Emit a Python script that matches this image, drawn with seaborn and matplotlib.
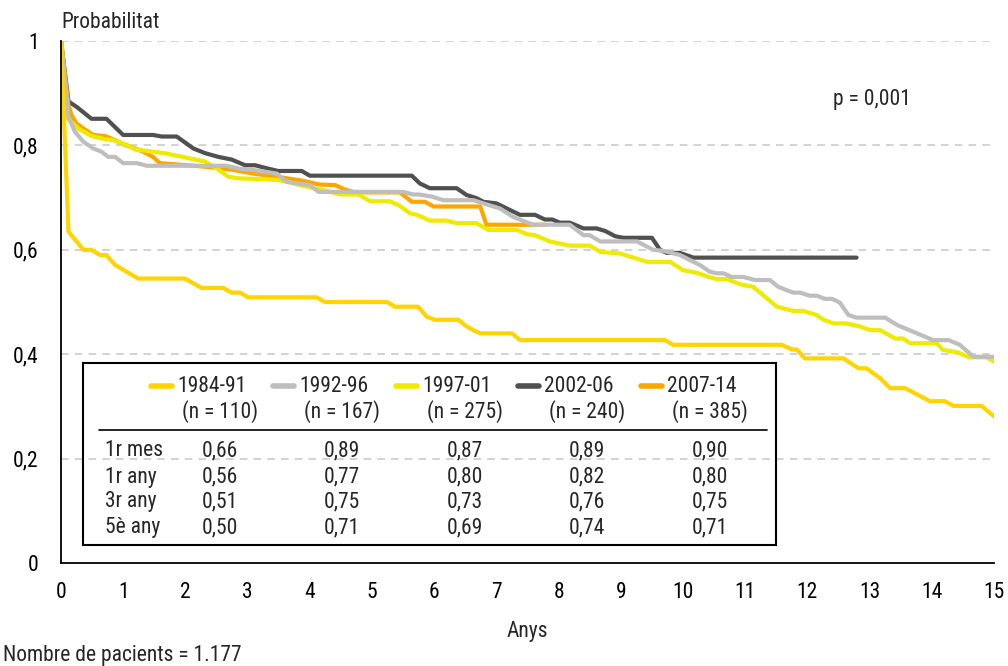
import numpy as np
import pandas as pd
import matplotlib
matplotlib.use("Agg")
import matplotlib.pyplot as plt
from matplotlib import font_manager
from matplotlib.ticker import FixedLocator, FixedFormatter
import seaborn as sns

# ---- survival curves (years, probability) ----
x_8491 = [0, 0.12, 0.36, 0.49, 0.63, 0.73, 0.87, 1.24, 1.99, 2.26, 2.61, 2.74, 2.88, 3.01, 4.11,
          4.24, 5.24, 5.37, 5.74, 5.88, 6.01, 6.39, 6.50, 6.63, 6.74, 7.25, 7.38, 9.71, 9.84, 11.59,
          11.75, 11.83, 11.96, 12.58, 12.82, 12.95, 13.17, 13.33, 13.57, 13.97, 14.21, 14.35, 14.80, 15.0]
y_8491 = [1, 0.635, 0.600, 0.600, 0.590, 0.590, 0.571, 0.545, 0.545, 0.527, 0.527, 0.518, 0.518, 0.509,
          0.509, 0.500, 0.500, 0.491, 0.491, 0.472, 0.466, 0.466, 0.455, 0.446, 0.440, 0.440, 0.427,
          0.427, 0.418, 0.418, 0.409, 0.409, 0.392, 0.392, 0.373, 0.373, 0.354, 0.335, 0.335, 0.310,
          0.310, 0.301, 0.301, 0.281]

x_9296 = [0, 0.12, 0.225, 0.36, 0.52, 0.65, 0.76, 0.87, 1.0, 1.22, 1.38, 2.66, 2.88, 3.09, 3.47,
          3.63, 4.0, 4.14, 5.5, 5.66, 5.75, 5.96, 6.15, 6.63, 6.84, 7.06, 7.27, 7.59, 8.18, 8.40,
          8.50, 8.67, 9.26, 9.52, 9.68, 9.95, 10.27, 10.43, 10.54, 10.65, 10.78, 10.97, 11.16, 11.40,
          11.53, 11.77, 11.88, 12.04, 12.15, 12.28, 12.40, 12.52, 12.66, 12.79, 13.25, 13.44, 14.02,
          14.27, 14.45, 14.67, 15.0]
y_9296 = [1, 0.855, 0.826, 0.807, 0.794, 0.788, 0.778, 0.778, 0.766, 0.766, 0.761, 0.761, 0.755,
          0.753, 0.746, 0.730, 0.724, 0.711, 0.711, 0.706, 0.706, 0.702, 0.695, 0.695, 0.687, 0.679,
          0.663, 0.648, 0.648, 0.628, 0.628, 0.616, 0.616, 0.600, 0.598, 0.590, 0.571, 0.558, 0.555,
          0.555, 0.548, 0.548, 0.542, 0.542, 0.529, 0.518, 0.518, 0.512, 0.512, 0.506, 0.506, 0.499,
          0.475, 0.470, 0.470, 0.456, 0.427, 0.427, 0.418, 0.395, 0.395]

x_9701 = [0, 0.11, 0.28, 0.49, 0.71, 0.84, 1.06, 1.19, 1.35, 1.67, 2.32, 2.50, 2.69, 2.85, 3.47,
          3.65, 3.84, 4.16, 4.49, 4.78, 4.97, 5.29, 5.45, 5.61, 5.72, 5.93, 6.20, 6.36, 6.68, 6.87,
          7.33, 7.49, 7.62, 7.86, 8.18, 8.50, 8.67, 8.99, 9.15, 9.42, 9.79, 10.0, 10.22, 10.41, 10.54,
          10.70, 10.92, 11.13, 11.29, 11.51, 11.77, 11.93, 12.15, 12.26, 12.42, 12.63, 12.85, 13.01,
          13.17, 13.41, 13.54, 13.65, 14.08, 14.18, 14.40, 14.61, 14.88, 15.0]
y_9701 = [1, 0.851, 0.832, 0.818, 0.812, 0.810, 0.801, 0.792, 0.790, 0.785, 0.769, 0.756, 0.740,
          0.737, 0.734, 0.730, 0.724, 0.716, 0.706, 0.706, 0.693, 0.693, 0.684, 0.670, 0.667, 0.656,
          0.656, 0.651, 0.651, 0.638, 0.638, 0.630, 0.628, 0.616, 0.608, 0.608, 0.596, 0.593, 0.587,
          0.577, 0.577, 0.561, 0.556, 0.548, 0.544, 0.544, 0.534, 0.529, 0.513, 0.491, 0.483, 0.483,
          0.475, 0.466, 0.459, 0.459, 0.453, 0.446, 0.446, 0.430, 0.430, 0.421, 0.421, 0.408, 0.404,
          0.394, 0.394, 0.386]

x_0206 = [0, 0.12, 0.25, 0.49, 0.73, 1.0, 1.48, 1.62, 1.86, 2.13, 2.32, 2.53, 2.74, 2.96, 3.12,
          3.28, 3.49, 3.87, 4.0, 5.64, 5.77, 5.93, 6.36, 6.52, 6.68, 6.79, 7.0, 7.17, 7.38, 7.62,
          7.78, 7.90, 8.02, 8.18, 8.40, 8.61, 8.75, 8.91, 9.04, 9.50, 9.63, 9.74, 9.95, 10.17, 12.79]
y_0206 = [1, 0.884, 0.874, 0.851, 0.851, 0.820, 0.820, 0.817, 0.817, 0.794, 0.785, 0.778, 0.773,
          0.762, 0.762, 0.757, 0.751, 0.751, 0.742, 0.742, 0.727, 0.718, 0.718, 0.705, 0.699, 0.692,
          0.689, 0.679, 0.667, 0.667, 0.658, 0.658, 0.652, 0.652, 0.641, 0.641, 0.636, 0.626, 0.623,
          0.623, 0.600, 0.594, 0.594, 0.585, 0.585]

x_0714 = [0, 0.12, 0.17, 0.25, 0.39, 0.52, 0.71, 0.87, 1.03, 1.19, 1.32, 1.48, 1.59, 2.34, 2.77,
          3.09, 3.47, 3.90, 4.16, 4.41, 4.57, 4.73, 5.45, 5.64, 5.85, 5.99, 6.74, 6.84, 7.78]
y_0714 = [1, 0.877, 0.858, 0.842, 0.830, 0.820, 0.818, 0.810, 0.801, 0.794, 0.788, 0.778, 0.766,
          0.759, 0.753, 0.746, 0.740, 0.732, 0.725, 0.724, 0.715, 0.710, 0.710, 0.692, 0.692, 0.683,
          0.683, 0.648, 0.648]

# ---- legend / summary table ----
periods = ["1984-91", "1992-96", "1997-01", "2002-06", "2007-14"]
n_labels = ["(n = 110)", "(n = 167)", "(n = 275)", "(n = 240)", "(n = 385)"]
colors = ["#FFD400", "#BEBEBE", "#EEEA00", "#505050", "#FFA500"]
row_labels = ["1r mes", "1r any", "3r any", "5è any"]
table_values = [
    ["0,66", "0,89", "0,87", "0,89", "0,90"],
    ["0,56", "0,77", "0,80", "0,82", "0,80"],
    ["0,51", "0,75", "0,73", "0,76", "0,75"],
    ["0,50", "0,71", "0,69", "0,74", "0,71"],
]

y_ticks = [0, 0.2, 0.4, 0.6, 0.8, 1.0]
y_tick_labels = ["0", "0,2", "0,4", "0,6", "0,8", "1"]
x_ticks = list(range(0, 16))

# ---- fonts ----
sns.set_theme(style="white")
available = {f.name for f in font_manager.fontManager.ttflist}
family = [f for f in ["Liberation Sans Narrow", "Roboto Condensed", "DejaVu Sans"] if f in available]
plt.rcParams["font.family"] = family
FS = 15.5

series = {
    "1984-91": (x_8491, y_8491),
    "1992-96": (x_9296, y_9296),
    "1997-01": (x_9701, y_9701),
    "2002-06": (x_0206, y_0206),
    "2007-14": (x_0714, y_0714),
}
frames = []
for name, (xs, ys) in series.items():
    frames.append(pd.DataFrame({"anys": xs, "prob": ys, "periode": name}))
df = pd.concat(frames, ignore_index=True)

palette = dict(zip(periods, colors))
draw_order = ["2002-06", "2007-14", "1997-01", "1992-96", "1984-91"]

fig = plt.figure(figsize=(10.08, 6.66), dpi=100)
ax = fig.add_axes([61 / 1008, 1 - 563 / 666, (994 - 61) / 1008, (563 - 41) / 666])

# dashed horizontal grid
for yv in y_ticks[1:]:
    ax.axhline(yv, color="#C8C8C8", lw=1.1, ls=(0, (5, 4)), zorder=0)

sns.lineplot(data=df, x="anys", y="prob", hue="periode", hue_order=draw_order,
             palette=palette, estimator=None, sort=False, linewidth=3.0,
             legend=False, ax=ax, solid_capstyle="round", solid_joinstyle="round")

ax.set_xlim(0, 15)
ax.set_ylim(0, 1)
ax.set_xlabel("")
ax.set_ylabel("")
for side in ["top", "right"]:
    ax.spines[side].set_visible(False)
for side in ["left", "bottom"]:
    ax.spines[side].set_color("black")
    ax.spines[side].set_linewidth(1.3)
ax.yaxis.set_major_locator(FixedLocator(y_ticks))
ax.yaxis.set_major_formatter(FixedFormatter(y_tick_labels))
ax.xaxis.set_major_locator(FixedLocator(x_ticks))
ax.set_xticklabels([str(v) for v in x_ticks])
ax.tick_params(axis="y", length=0, pad=16, labelsize=FS, colors="black")
ax.tick_params(axis="x", length=0, pad=14, labelsize=FS, colors="black")

fig.text(61 / 1008, 1 - 22 / 666, "Probabilitat", fontsize=FS, ha="left", va="center")
fig.text(527 / 1008, 1 - 632 / 666, "Anys", fontsize=FS, ha="center", va="center")
fig.text(3 / 1008, 1 - 655 / 666, "Nombre de pacients = 1.177", fontsize=FS, ha="left", va="center")
fig.text(833 / 1008, 1 - 100 / 666, "p = 0,001", fontsize=FS, ha="left", va="center")

# ---- boxed legend table ----
bx0, by0, bx1, by1 = 83, 363, 776, 545
tab = fig.add_axes([bx0 / 1008, 1 - by1 / 666, (bx1 - bx0) / 1008, (by1 - by0) / 666])
tab.set_xlim(0, bx1 - bx0)
tab.set_ylim(by1 - by0, 0)
tab.patch.set_alpha(0)
tab.set_xticks([])
tab.set_yticks([])
for s in tab.spines.values():
    s.set_color("black")
    s.set_linewidth(1.5)
    s.set_visible(True)

col_centers = [137, 259, 382, 504, 627]
for c, name, nl, col in zip(col_centers, periods, n_labels, colors):
    tab.plot([c - 69, c - 48], [23, 23], color=col, lw=4, solid_capstyle="round")
    tab.text(c - 8, 23, name, fontsize=FS, ha="center", va="center")
    tab.text(c, 49, nl, fontsize=FS, ha="center", va="center")
tab.plot([16, 684], [67, 67], color="black", lw=1.2)
row_y = [88, 114, 139, 165]
for ry, rl, vals in zip(row_y, row_labels, table_values):
    tab.text(22, ry, rl, fontsize=FS, ha="left", va="center")
    for c, v in zip(col_centers, vals):
        tab.text(c, ry, v, fontsize=FS, ha="center", va="center")

fig.savefig("out.png", dpi=100, facecolor="white")
